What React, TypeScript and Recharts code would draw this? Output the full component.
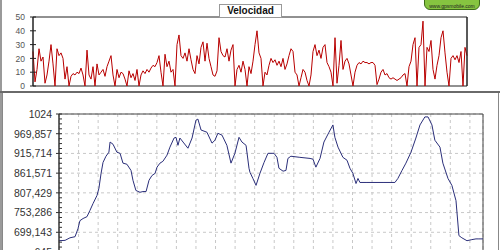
import { LineChart, Line, XAxis, YAxis, ReferenceArea, CartesianGrid } from "recharts";

// speed trace (km/h), one sample per step along the route
const speedKmh = [
  25, 3, 12, 27, 18, 21, 2, 8, 18, 30, 16, 0, 27, 22, 24, 20, 5, 14, 0, 7,
  9, 8, 10, 9, 13, 8, 0, 26, 8, 5, 14, 0, 16, 8, 10, 12, 7, 14, 18, 22,
  8, 0, 12, 6, 10, 9, 5, 0, 11, 6, 9, 4, 12, 0, 8, 11, 9, 12, 10, 13,
  15, 14, 17, 22, 10, 0, 23, 14, 18, 10, 12, 0, 30, 37, 22, 20, 24, 18, 27, 19,
  12, 9, 22, 16, 28, 32, 18, 31, 20, 14, 8, 7, 11, 35, 25, 22, 21, 27, 18, 26,
  30, 0, 12, 15, 10, 18, 12, 0, 14, 9, 18, 30, 40, 24, 20, 0, 10, 8, 15, 20,
  17, 19, 15, 18, 14, 20, 12, 16, 22, 27, 25, 10, 8, 0, 6, 12, 10, 4, 0, 8,
  25, 30, 22, 26, 20, 28, 30, 17, 14, 10, 0, 35, 2, 15, 33, 12, 18, 20, 16, 8,
  0, 10, 15, 17, 16, 18, 17, 17, 16, 17, 17, 15, 1, 5, 10, 12, 8, 9, 6, 5,
  6, 5, 4, 5, 6, 8, 9, 0, 14, 18, 30, 35, 0, 28, 30, 47, 0, 28, 25, 33,
  12, 5, 15, 22, 35, 40, 24, 10, 0, 20, 22, 19, 22, 17, 25, 0, 28, 22,
];
const speedTicks = [0, 10, 20, 30, 40, 50];

// elevation profile: distance (km) and altitude (m)
const elevKm = [
  0, 0.31, 0.56, 0.82, 0.97, 1.07, 1.23, 1.43, 1.58, 1.74, 1.94, 2.04, 2.15, 2.25, 2.4, 2.55,
  2.61, 2.76, 2.96, 3.12, 3.27, 3.47, 3.68, 3.78, 3.93, 4.14, 4.29, 4.45, 4.6, 4.75, 4.91, 5.01,
  5.16, 5.31, 5.52, 5.67, 5.88, 5.98, 6.08, 6.18, 6.34, 6.59, 6.8, 7.0, 7.1, 7.26, 7.56, 7.82,
  7.97, 8.12, 8.33, 8.58, 8.79, 8.99, 9.2, 9.35, 9.56, 9.71, 9.76, 9.91, 10.07, 10.27, 10.48, 10.68,
  10.99, 11.14, 11.24, 11.45, 11.6, 11.7, 11.85, 12.31, 12.83, 12.98, 13.13, 13.34, 13.54, 13.8, 14.0, 14.1,
  14.26, 14.51, 14.72, 14.87, 15.02, 15.18, 15.28, 15.38, 15.74, 16.56, 17.17, 17.32, 17.53, 17.73, 17.99, 18.24,
  18.45, 18.7, 18.86, 19.06, 19.21, 19.47, 19.62, 19.88, 20.08, 20.29, 20.44, 20.59, 20.85, 21.1, 21.31, 21.46, 21.67,
];
const elevM = [
  676, 677, 684, 687, 709, 731, 737, 742, 759, 778, 800, 820, 861, 891, 908, 919,
  947, 941, 919, 916, 889, 886, 869, 842, 814, 809, 811, 811, 842, 855, 861, 878,
  889, 894, 911, 933, 958, 960, 938, 958, 947, 930, 958, 1007, 1010, 980, 974, 944,
  952, 971, 966, 938, 889, 916, 960, 947, 938, 875, 864, 847, 828, 861, 891, 916,
  916, 905, 875, 867, 869, 902, 908, 905, 902, 900, 878, 902, 947, 974, 994, 960,
  933, 905, 897, 875, 861, 833, 847, 836, 836, 836, 836, 847, 869, 889, 919, 958,
  994, 1016, 1016, 994, 952, 933, 889, 847, 828, 786, 690, 684, 676, 679, 681, 681, 681,
];
const elevTicks = [645, 699.143, 753.286, 807.429, 861.571, 915.714, 969.857, 1024];
const kmTicks = Array.from({ length: 22 }, (_, i) => i);

const speedData = speedKmh.map((v, i) => ({ i, v }));
const elevData = elevKm.map((km, i) => ({ km, m: elevM[i] }));

// three small ticks between each labelled one
const elevAllTicks = elevTicks.flatMap((t, i) =>
  i === elevTicks.length - 1 ? [t] : [0, 1, 2, 3].map((k) => t + ((elevTicks[i + 1] - t) * k) / 4)
);

const fmtElev = (v: number) => (Number.isInteger(v) ? String(v) : v.toFixed(3).replace(".", ","));

function ElevTick(props: any) {
  const { x, y, payload } = props;
  const ax = x + 7;
  const major = elevTicks.includes(payload.value);
  return (
    <g>
      <line x1={major ? ax - 3 : ax} x2={ax + 3} y1={y} y2={y} stroke="#333" />
      {major && (
        <text x={x} y={y} dy={3.8} textAnchor="end" fontSize={10.5} fill="#333">
          {fmtElev(payload.value)}
        </text>
      )}
    </g>
  );
}

function SpeedTick(props: any) {
  const { x, y, payload, side } = props;
  const left = side === "left";
  const ax = left ? x + 8 : x - 8;
  return (
    <g>
      <line x1={ax - 3} x2={ax + 3} y1={y} y2={y} stroke="#222" />
      <text x={x} y={y} dy={3.2} textAnchor={left ? "end" : "start"} fontSize={8.5} fill="#555">
        {payload.value}
      </text>
    </g>
  );
}

// km labels sit below the visible crop, so nothing is drawn for them
const NoTick = () => <g />;

export default function App() {
  const last = speedKmh.length - 1;
  const kmMax = elevKm[elevKm.length - 1];
  return (
    <div
      style={{
        position: "relative",
        width: 500,
        height: 250,
        overflow: "hidden",
        background: "#fff",
        fontFamily: "'Liberation Sans', Arial, sans-serif",
      }}
    >
      <style>{"body{margin:0}"}</style>
      <div style={{ position: "absolute", left: 0, top: 0, width: 2, height: 250, background: "#9a9a9a" }} />

      <div style={{ position: "absolute", left: 0, top: 0 }}>
        <LineChart width={500} height={92} data={speedData} margin={{ top: 17, right: 0, bottom: 6, left: 0 }}>
          <XAxis dataKey="i" type="number" domain={[0, last]} hide />
          <YAxis
            domain={[0, 50]}
            ticks={speedTicks}
            interval={0}
            width={33}
            tickSize={3}
            tickMargin={5}
            tickLine={false}
            axisLine={{ stroke: "#222" }}
            tick={(p: any) => <SpeedTick {...p} side="left" />}
          />
          <YAxis
            yAxisId="r"
            orientation="right"
            domain={[0, 50]}
            ticks={speedTicks}
            interval={0}
            width={33}
            tickSize={3}
            tickMargin={5}
            tickLine={false}
            axisLine={{ stroke: "#222" }}
            tick={(p: any) => <SpeedTick {...p} side="right" />}
          />
          <ReferenceArea x1={0} x2={last} y1={0} y2={50} stroke="#222" fill="none" fillOpacity={0} />
          <Line
            type="linear"
            dataKey="v"
            stroke="#b80000"
            strokeWidth={1}
            dot={false}
            isAnimationActive={false}
          />
        </LineChart>
      </div>

      <div
        style={{
          position: "absolute",
          left: 219,
          top: 4,
          width: 63,
          height: 14,
          boxSizing: "border-box",
          border: "1px solid #999",
          background: "#fff",
          fontSize: 10,
          fontWeight: "bold",
          textAlign: "center",
          lineHeight: "12px",
          color: "#111",
        }}
      >
        Velocidad
      </div>

      <div
        style={{
          position: "absolute",
          left: 424,
          top: -4,
          width: 56,
          height: 14,
          boxSizing: "border-box",
          border: "1px solid #3d6b1a",
          borderRadius: "0 0 6px 6px",
          background: "#86c440",
          fontSize: 5,
          lineHeight: "5px",
          color: "#222",
          textAlign: "center",
          paddingTop: 7,
        }}
      >
        www.gpsmobile.com
      </div>

      <div style={{ position: "absolute", left: 0, top: 91, width: 500, height: 2, background: "#6a6a6a" }} />
      <div
        style={{
          position: "absolute",
          left: 2,
          top: 93,
          width: 497,
          height: 157,
          boxSizing: "border-box",
          borderLeft: "1px solid #888",
          borderRight: "1px solid #888",
        }}
      />

      <div style={{ position: "absolute", left: 0, top: 93 }}>
        <LineChart width={500} height={190} data={elevData} margin={{ top: 21, right: 17, bottom: 11, left: 0 }}>
          <CartesianGrid stroke="#c8c8c8" strokeDasharray="3 3" horizontalValues={elevTicks} />
          <XAxis
            dataKey="km"
            type="number"
            domain={[0, kmMax]}
            ticks={kmTicks}
            interval={0}
            height={20}
            tick={NoTick}
            tickLine={false}
            axisLine={false}
          />
          <YAxis
            domain={[645, 1024]}
            ticks={elevAllTicks}
            interval={0}
            width={59}
            tickSize={4}
            tickMargin={3}
            tickLine={false}
            axisLine={{ stroke: "#333" }}
            tick={ElevTick}
          />
          <ReferenceArea x1={0} x2={kmMax} y1={645} y2={1024} stroke="#444" fill="none" fillOpacity={0} />
          <Line
            type="linear"
            dataKey="m"
            stroke="#2b2f7a"
            strokeWidth={1}
            dot={false}
            isAnimationActive={false}
          />
        </LineChart>
      </div>
    </div>
  );
}
